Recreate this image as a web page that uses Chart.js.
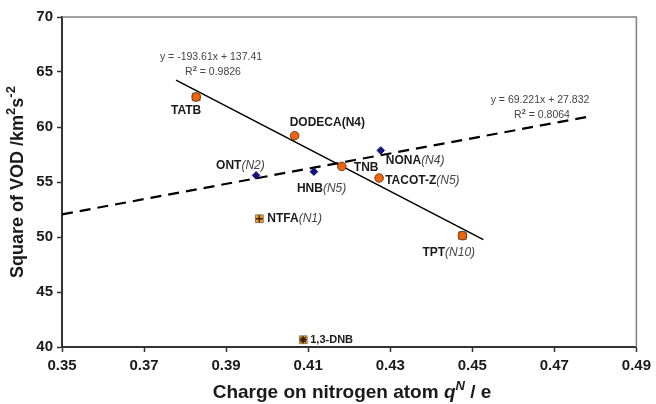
<!DOCTYPE html>
<html>
<head>
<meta charset="utf-8">
<script src="https://cdn.jsdelivr.net/npm/chart.js@4/dist/chart.umd.min.js"></script>
<style>
  html, body { margin: 0; padding: 0; background: #fff; }
  #wrap { width: 656px; height: 404px; }
</style>
</head>
<body>
<div id="wrap"><canvas id="vod"></canvas></div>
<script>
// compounds, charge on nitrogen (e) and squared detonation velocity (km2/s2)
const compounds = ['TATB', 'DODECA(N4)', 'ONT', 'HNB', 'TNB', 'NONA', 'TACOT-Z', 'TPT', 'NTFA', '1,3-DNB'];
const tags      = ['', '', '(N2)', '(N5)', '', '(N4)', '(N5)', '(N10)', '(N1)', ''];
const charge    = [0.3827, 0.4067, 0.3973, 0.4114, 0.4182, 0.4277, 0.4273, 0.4476, 0.3981, 0.4088];
const vodSq     = [62.73, 59.21, 55.60, 55.94, 56.42, 57.87, 55.36, 50.12, 51.66, 40.66];

// marker groups
const circleSet  = ['TATB', 'DODECA(N4)', 'TNB', 'TACOT-Z', 'TPT'];
const diamondSet = ['ONT', 'HNB', 'NONA'];
const boxSet     = ['TATB', 'TPT', 'NTFA', '1,3-DNB'];
const plusSet    = ['NTFA'];
const starSet    = ['1,3-DNB'];

// fitted lines: slope, intercept, R2, x range
const fitA = { slope: -193.61, intercept: 137.41, r2: 0.9826, from: 0.3778, to: 0.4527 };
const fitB = { slope: 69.221, intercept: 27.832, r2: 0.8064, from: 0.35, to: 0.478 };

const xTicks = [0.35, 0.37, 0.39, 0.41, 0.43, 0.45, 0.47, 0.49];
const yTicks = [40, 45, 50, 55, 60, 65, 70];

const FONT = "'Liberation Sans', Arial, sans-serif";

function pick(set) {
  return compounds.map((c, i) => set.includes(c) ? { x: charge[i], y: vodSq[i] } : null).filter(p => p);
}
function fitLine(f) {
  return [f.from, f.to].map(x => ({ x: x, y: f.slope * x + f.intercept }));
}
function sign(v) { return v < 0 ? '- ' + Math.abs(v) : '+ ' + v; }

// label offsets from the marker, in px
const labelPos = {
  'TATB':       { dx: -10, dy: 14, align: 'center' },
  'DODECA(N4)': { dx: -5,  dy: -13 },
  'ONT':        { dx: -40, dy: -10 },
  'HNB':        { dx: -17, dy: 17 },
  'TNB':        { dx: 12,  dy: 1 },
  'NONA':       { dx: 5,   dy: 10 },
  'TACOT-Z':    { dx: 6,   dy: 3 },
  'TPT':        { dx: -40, dy: 17 },
  'NTFA':       { dx: 8,   dy: 0 },
  '1,3-DNB':    { dx: 7,   dy: 0, small: true }
};

// draws runs of text [{t, font, color, dy}] starting at x
function drawRuns(ctx, runs, x, y, align) {
  let total = 0;
  runs.forEach(r => { ctx.font = r.font; total += ctx.measureText(r.t).width; });
  let cx = align === 'center' ? x - total / 2 : x;
  ctx.textAlign = 'left';
  ctx.textBaseline = 'middle';
  runs.forEach(r => {
    ctx.font = r.font;
    ctx.fillStyle = r.color;
    ctx.fillText(r.t, cx, y + (r.dy || 0));
    cx += ctx.measureText(r.t).width;
  });
}

const annotate = {
  id: 'annotate',
  beforeDatasetsDraw(chart) {
    const { ctx, chartArea: a } = chart;
    ctx.save();
    ctx.strokeStyle = '#808080';
    ctx.lineWidth = 1.5;
    ctx.beginPath();
    ctx.moveTo(a.left, a.top);
    ctx.lineTo(a.right, a.top);
    ctx.lineTo(a.right, a.bottom);
    ctx.stroke();
    ctx.restore();
  },
  afterDraw(chart) {
    const { ctx, chartArea: a } = chart;
    const xs = chart.scales.x, ys = chart.scales.y;
    ctx.save();

    // compound labels
    compounds.forEach((name, i) => {
      const p = labelPos[name];
      const px = xs.getPixelForValue(charge[i]) + p.dx;
      const py = ys.getPixelForValue(vodSq[i]) + p.dy;
      const size = p.small ? 11 : 12;
      const runs = [{ t: name, font: `bold ${size}px ${FONT}`, color: '#1a1a1a' }];
      if (tags[i]) runs.push({ t: tags[i], font: `italic ${size}px ${FONT}`, color: '#444' });
      drawRuns(ctx, runs, px, py, p.align);
    });

    // fit equations
    const eq = `10.5px ${FONT}`, sup = `bold 7.5px ${FONT}`;
    [[fitA, 211, 57], [fitB, 540, 100]].forEach(([f, x, y]) => {
      drawRuns(ctx, [{ t: `y = ${f.slope}x ${sign(f.intercept)}`, font: eq, color: '#444' }], x, y, 'center');
      drawRuns(ctx, [
        { t: 'R', font: eq, color: '#444' },
        { t: '2', font: sup, color: '#444', dy: -3 },
        { t: ' = ' + f.r2, font: eq, color: '#444' }
      ], x + 2, y + 15, 'center');
    });

    // x axis title
    const big = `bold 19px ${FONT}`, bigSup = `bold 13px ${FONT}`;
    drawRuns(ctx, [
      { t: 'Charge on nitrogen atom ', font: big, color: '#1a1a1a' },
      { t: 'q', font: `bold italic 19px ${FONT}`, color: '#1a1a1a' },
      { t: 'N', font: `bold italic 13px ${FONT}`, color: '#1a1a1a', dy: -7 },
      { t: ' / e', font: big, color: '#1a1a1a' }
    ], 352, 393, 'center');

    // y axis title
    const yBig = `bold 18px ${FONT}`;
    ctx.translate(18, 182);
    ctx.rotate(-Math.PI / 2);
    drawRuns(ctx, [
      { t: 'Square of VOD /km', font: yBig, color: '#1a1a1a' },
      { t: '2', font: bigSup, color: '#1a1a1a', dy: -7 },
      { t: 's', font: yBig, color: '#1a1a1a' },
      { t: '-2', font: bigSup, color: '#1a1a1a', dy: -7 }
    ], 0, 0, 'center');
    ctx.restore();
  }
};

new Chart(document.getElementById('vod'), {
  type: 'scatter',
  data: {
    datasets: [
      { data: pick(plusSet), pointStyle: 'cross', pointRadius: 3.5, borderColor: '#3a2000', borderWidth: 1.5 },
      { data: pick(starSet), pointStyle: 'star', pointRadius: 3.5, borderColor: '#3a2000', borderWidth: 1.5 },
      { data: pick(circleSet), pointStyle: 'circle', pointRadius: 4.3, backgroundColor: '#f06410', borderColor: '#5a2a08', borderWidth: 0.8 },
      { data: pick(diamondSet), pointStyle: 'rectRot', pointRadius: 3.8, backgroundColor: '#12127a', borderColor: '#12127a', borderWidth: 1 },
      { data: pick(boxSet), pointStyle: 'rect', pointRadius: 5.5, backgroundColor: '#f5a02a', borderColor: '#8a7a60', borderWidth: 1 },
      { type: 'line', data: fitLine(fitA), borderColor: '#000', borderWidth: 1.6, pointRadius: 0, fill: false },
      { type: 'line', data: fitLine(fitB), borderColor: '#000', borderWidth: 2.2, borderDash: [11, 7], pointRadius: 0, fill: false }
    ]
  },
  options: {
    responsive: true,
    maintainAspectRatio: false,
    animation: false,
    layout: { padding: { top: 17, right: 19, left: 0, bottom: 0 } },
    plugins: { legend: { display: false }, tooltip: { enabled: false } },
    scales: {
      x: {
        type: 'linear',
        min: xTicks[0],
        max: xTicks[xTicks.length - 1],
        afterBuildTicks: s => { s.ticks = xTicks.map(v => ({ value: v })); },
        afterFit: s => { s.height = 57; },
        grid: { drawOnChartArea: false, tickLength: 5, tickColor: '#333', tickWidth: 1.5 },
        border: { color: '#333', width: 2 },
        ticks: { padding: 5, color: '#1a1a1a', font: { family: FONT, size: 15, weight: 'bold' }, callback: v => v.toFixed(2) }
      },
      y: {
        type: 'linear',
        min: yTicks[0],
        max: yTicks[yTicks.length - 1],
        afterBuildTicks: s => { s.ticks = yTicks.map(v => ({ value: v })); },
        afterFit: s => { s.width = 62; },
        grid: { drawOnChartArea: false, tickLength: 5, tickColor: '#333', tickWidth: 1.5 },
        border: { color: '#333', width: 2 },
        ticks: { padding: 4, color: '#1a1a1a', font: { family: FONT, size: 15, weight: 'bold' } }
      }
    }
  },
  plugins: [annotate]
});
</script>
</body>
</html>
